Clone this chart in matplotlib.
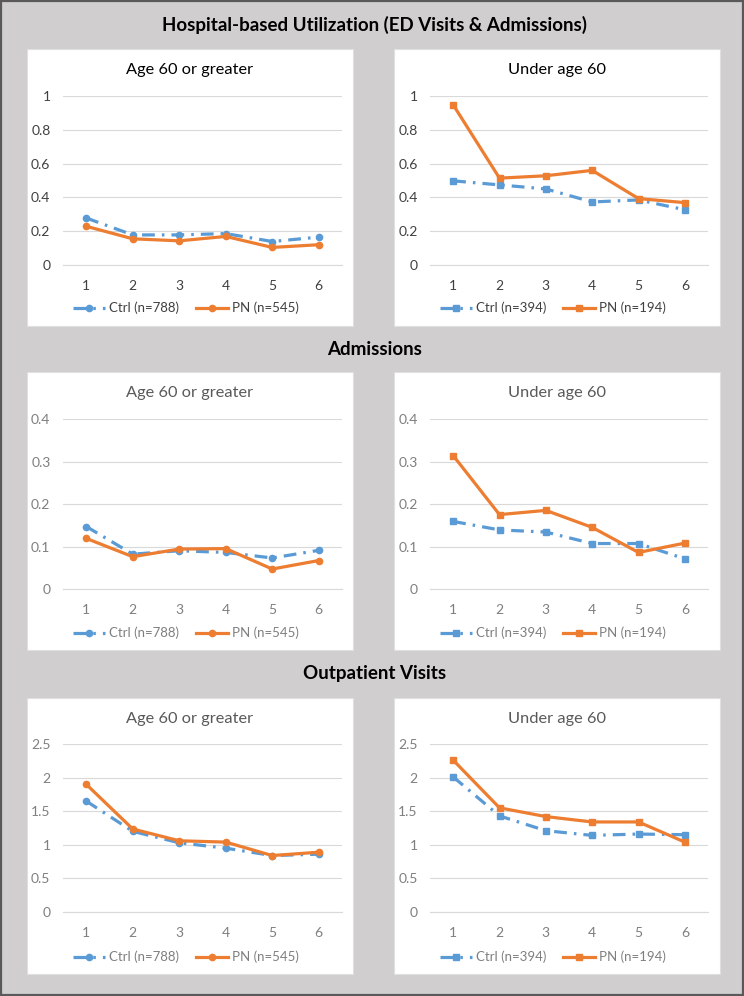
import matplotlib
matplotlib.use("Agg")
import matplotlib.pyplot as plt
from matplotlib.patches import Rectangle

plt.rcParams['font.family'] = ['Lato', 'DejaVu Sans']

W, H = 744, 996
x = [1, 2, 3, 4, 5, 6]

# row titles / y scales
row_titles = ["Hospital-based Utilization (ED Visits & Admissions)", "Admissions", "Outpatient Visits"]
y_max = [1.0, 0.4, 2.5]
y_ticks = [[0, 0.2, 0.4, 0.6, 0.8, 1], [0, 0.1, 0.2, 0.3, 0.4], [0, 0.5, 1, 1.5, 2, 2.5]]
y_labels = [["0", "0.2", "0.4", "0.6", "0.8", "1"],
            ["0", "0.1", "0.2", "0.3", "0.4"],
            ["0", "0.5", "1", "1.5", "2", "2.5"]]
panel_titles = ["Age 60 or greater", "Under age 60"]
ctrl_names = ["Ctrl (n=788)", "Ctrl (n=394)"]
pn_names = ["PN (n=545)", "PN (n=194)"]

# values, [row][col]
ctrl = [
    [[0.278, 0.178, 0.178, 0.186, 0.139, 0.165],
     [0.498, 0.474, 0.450, 0.373, 0.385, 0.327]],
    [[0.147, 0.082, 0.090, 0.086, 0.073, 0.091],
     [0.159, 0.139, 0.134, 0.107, 0.107, 0.071]],
    [[1.65, 1.20, 1.03, 0.95, 0.84, 0.86],
     [2.01, 1.43, 1.21, 1.14, 1.16, 1.15]],
]
pn = [
    [[0.229, 0.155, 0.143, 0.169, 0.104, 0.120],
     [0.948, 0.514, 0.528, 0.560, 0.393, 0.369]],
    [[0.119, 0.076, 0.094, 0.095, 0.047, 0.067],
     [0.314, 0.175, 0.185, 0.145, 0.086, 0.108]],
    [[1.90, 1.235, 1.06, 1.04, 0.84, 0.89],
     [2.26, 1.55, 1.42, 1.34, 1.34, 1.04]],
]

BLUE = "#5B9BD5"
ORANGE = "#ED7D31"

fig = plt.figure(figsize=(W / 100, H / 100), dpi=100)
fig.patch.set_facecolor("#D0CECE")
fig.patches.append(Rectangle((1 / W, 1 / H), 1 - 2.5 / W, 1 - 2.5 / H, transform=fig.transFigure,
                             fill=False, edgecolor="#595959", linewidth=1.6, zorder=10))

def fx(px):
    return px / W

def fy(py):
    return 1 - py / H

# pixel geometry: white box, plot area, panel title y, legend y, row title y
rows = [
    dict(box=(49, 326), plot=(96, 265), title=70, leg=308, head=25),
    dict(box=(372, 650), plot=(419, 589), title=393, leg=633, head=349),
    dict(box=(698, 974), plot=(744, 912), title=719, leg=957, head=673),
]
cols = [dict(box=(27, 353), plot=(63, 342)), dict(box=(394, 720), plot=(430, 708))]

for r, rw in enumerate(rows):
    fig.text(0.503, fy(rw["head"]), row_titles[r], ha="center", va="center",
             fontsize=13.5, fontweight="bold", color="black")
    txtc = "#404040" if r == 0 else "#7F7F7F"
    ttlc = "black" if r == 0 else "#595959"
    for c, cl in enumerate(cols):
        bx0, bx1 = cl["box"]
        by0, by1 = rw["box"]
        fig.patches.append(Rectangle((fx(bx0), fy(by1)), fx(bx1 - bx0), (by1 - by0) / H,
                                     transform=fig.transFigure, facecolor="white",
                                     edgecolor="#E0E0E0", linewidth=0.8, zorder=-1))
        px0, px1 = cl["plot"]
        py0, py1 = rw["plot"]
        ax = fig.add_axes([fx(px0), fy(py1), fx(px1 - px0), (py1 - py0) / H])
        ax.set_facecolor("white")
        marker = "o" if c == 0 else "s"
        ax.plot(x, ctrl[r][c], color=BLUE, lw=2.3, linestyle=(0, (4, 2.2, 0.8, 2.2)),
                marker=marker, markersize=4.5, label=ctrl_names[c], zorder=3, clip_on=False)
        ax.plot(x, pn[r][c], color=ORANGE, lw=2.3, marker=marker, markersize=4.5,
                label=pn_names[c], zorder=4, clip_on=False)
        ax.set_xlim(0.5, 6.5)
        ax.set_ylim(0, y_max[r])
        ax.set_yticks(y_ticks[r])
        ax.set_yticklabels(y_labels[r])
        ax.set_xticks(x)
        ax.grid(axis="y", color="#D9D9D9", linewidth=0.8)
        ax.set_axisbelow(True)
        for s in ["top", "right", "left"]:
            ax.spines[s].set_visible(False)
        ax.spines["bottom"].set_color("#D9D9D9")
        ax.spines["bottom"].set_linewidth(0.8)
        ax.tick_params(length=0, labelsize=10, colors=txtc, pad=9)
        ax.tick_params(axis="x", pad=11)
        fig.text(fx((bx0 + bx1) / 2), fy(rw["title"]), panel_titles[c], ha="center", va="center",
                 fontsize=11.8, color=ttlc)
        leg = fig.legend(handles=ax.get_lines(), loc="center",
                         bbox_to_anchor=(fx((bx0 + bx1) / 2 - 4), fy(rw["leg"])),
                         ncol=2, frameon=False, fontsize=9.5, handlelength=2.4,
                         columnspacing=1.3, handletextpad=0.3)
        for t in leg.get_texts():
            t.set_color(txtc)

fig.savefig("out.png", dpi=100, facecolor=fig.get_facecolor())
